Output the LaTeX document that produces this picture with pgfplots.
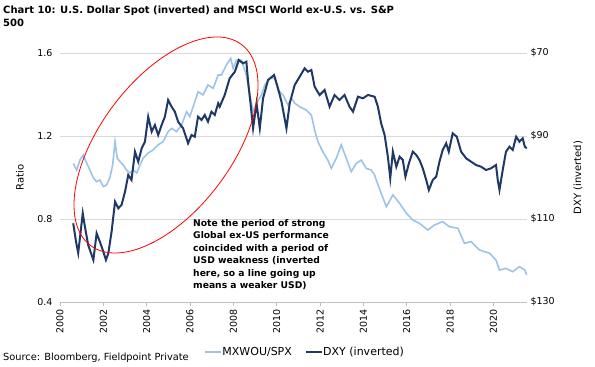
\documentclass[border=0pt]{standalone}
\usepackage{fontspec}
\setmainfont{DejaVu Sans}
\usepackage{pgfplots}
\pgfplotsset{compat=1.18}
\definecolor{lb}{HTML}{9DC3E6}
\definecolor{nv}{HTML}{1F3864}
\definecolor{gridc}{HTML}{D9D9D9}
\definecolor{axc}{HTML}{BFBFBF}

\begin{document}
\begin{tikzpicture}
\useasboundingbox (0,0) rectangle (595pt,367pt);
\begin{axis}[
  at={(60pt,65pt)}, anchor=south west,
  scale only axis, width=467pt, height=249pt,
  xmin=2000, xmax=2021.55, ymin=0.4, ymax=1.6,
  axis x line*=bottom, axis y line*=left,
  y axis line style={draw=none},
  x axis line style={axc, line width=0.8pt},
  ytick={0.4,0.8,1.2,1.6},
  yticklabel style={/pgf/number format/fixed, /pgf/number format/precision=1, /pgf/number format/fixed zerofill},
  ytick style={draw=none},
  xtick={2000,2002,...,2020},
  xticklabel style={rotate=90, anchor=east, /pgf/number format/1000 sep={}},
  xtick style={axc, line width=0.8pt},
  tick align=outside, major tick length=4pt,
  ymajorgrids, grid style={gridc, line width=0.8pt},
  /pgf/number format/assume math mode=true,
  tick label style={font=\fontsize{9.5}{11}\selectfont},
  ylabel={Ratio},
  every axis y label/.style={at={(axis description cs:-0.0857,0.5)}, rotate=90, anchor=center, font=\fontsize{10}{12}\selectfont},
]
\addplot[lb, line width=1.6pt] coordinates {
(2000.61,1.068) (2000.77,1.036) (2000.92,1.084) (2001.07,1.108) (2001.23,1.070) (2001.38,1.036) (2001.54,0.998)
(2001.69,0.980) (2001.84,0.988) (2002.00,0.956) (2002.15,0.964) (2002.30,0.998) (2002.43,1.060) (2002.54,1.173)
(2002.64,1.094) (2002.77,1.076) (2002.92,1.060) (2003.07,1.036) (2003.23,1.022) (2003.38,1.036) (2003.54,1.022)
(2003.69,1.060) (2003.84,1.094) (2004.07,1.118) (2004.30,1.133) (2004.53,1.157) (2004.76,1.173) (2004.99,1.221)
(2005.15,1.237) (2005.38,1.221) (2005.61,1.253) (2005.84,1.317) (2005.99,1.293) (2006.22,1.365) (2006.37,1.413)
(2006.60,1.398) (2006.83,1.446) (2007.07,1.430) (2007.30,1.494) (2007.45,1.494) (2007.68,1.542) (2007.88,1.574)
(2007.99,1.526) (2008.14,1.566) (2008.37,1.566) (2008.60,1.494) (2008.76,1.398) (2008.91,1.317) (2009.07,1.358)
(2009.30,1.398) (2009.45,1.446) (2009.68,1.478) (2009.91,1.478) (2010.06,1.422) (2010.29,1.398) (2010.52,1.349)
(2010.68,1.382) (2010.83,1.358) (2011.06,1.341) (2011.37,1.325) (2011.60,1.301) (2011.75,1.229) (2011.90,1.173)
(2012.13,1.124) (2012.36,1.084) (2012.52,1.044) (2012.75,1.093) (2012.98,1.157) (2013.21,1.093) (2013.44,1.028)
(2013.67,1.068) (2013.90,1.084) (2014.13,1.044) (2014.36,1.036) (2014.52,1.012) (2014.59,0.988) (2014.82,0.924)
(2015.06,0.859) (2015.36,0.916) (2015.67,0.876) (2015.98,0.828) (2016.28,0.795) (2016.59,0.779) (2016.97,0.747)
(2017.28,0.771) (2017.66,0.787) (2017.97,0.763) (2018.36,0.755) (2018.66,0.683) (2018.97,0.691) (2019.35,0.651)
(2019.82,0.635) (2020.12,0.602) (2020.28,0.554) (2020.58,0.562) (2020.89,0.546) (2021.20,0.570) (2021.45,0.554)
(2021.54,0.530)
};
\end{axis}
\begin{axis}[
  at={(60pt,65pt)}, anchor=south west,
  scale only axis, width=467pt, height=249pt,
  xmin=2000, xmax=2021.55, ymin=70, ymax=130, y dir=reverse,
  axis y line*=right, hide x axis,
  y axis line style={draw=none}, ytick style={draw=none},
  ytick={70,90,110,130},
  yticklabel={\$\pgfmathprintnumber{\tick}},
  /pgf/number format/assume math mode=true,
  tick label style={font=\fontsize{9.5}{11}\selectfont},
  ylabel={DXY (inverted)},
  every axis y label/.style={at={(axis description cs:1.109,0.5)}, rotate=90, anchor=center, font=\fontsize{10}{12}\selectfont},
  legend style={at={(axis description cs:0.5236,-0.2008)}, anchor=center, draw=none, fill=none,
    legend columns=2, font=\fontsize{11}{13}\selectfont,
    nodes={inner xsep=1pt},
    /tikz/every even column/.append style={column sep=12pt}},
  legend image code/.code={\draw[#1, line width=1.3pt] (0pt,0pt) -- (16pt,0pt);},
]
\addlegendimage{lb}
\addlegendentry{MXWOU/SPX}
\addplot[nv, line width=2pt] coordinates {
(2000.61,111.04) (2000.74,115.47) (2000.84,118.19) (2001.05,108.63) (2001.15,111.86) (2001.30,116.26) (2001.46,118.67)
(2001.54,119.88) (2001.69,113.45) (2001.84,115.47) (2002.00,117.88) (2002.12,119.88) (2002.23,118.27) (2002.38,113.06)
(2002.54,105.83) (2002.69,107.42) (2002.84,106.63) (2003.00,103.42) (2003.15,99.40) (2003.30,100.60) (2003.46,93.78)
(2003.61,96.19) (2003.77,92.96) (2003.92,91.37) (2004.07,85.35) (2004.23,88.96) (2004.38,87.35) (2004.53,89.76)
(2004.69,87.35) (2004.84,85.35) (2004.99,81.33) (2005.15,82.94) (2005.30,84.14) (2005.45,86.55) (2005.68,88.14)
(2005.91,91.76) (2006.07,89.76) (2006.22,90.17) (2006.37,85.35) (2006.53,86.14) (2006.68,84.94) (2006.83,86.55)
(2006.99,84.14) (2007.14,84.94) (2007.30,82.12) (2007.37,82.94) (2007.60,80.12) (2007.83,76.10) (2008.07,74.51)
(2008.25,71.69) (2008.45,72.48) (2008.60,72.10) (2008.68,76.92) (2008.80,82.53) (2008.91,88.14) (2009.07,82.12)
(2009.22,88.14) (2009.37,80.92) (2009.60,76.51) (2009.88,75.30) (2010.06,78.51) (2010.22,81.73) (2010.45,88.14)
(2010.60,82.12) (2010.83,77.71) (2011.06,75.71) (2011.29,73.69) (2011.44,74.51) (2011.60,74.10) (2011.75,78.12)
(2011.98,80.12) (2012.21,78.92) (2012.44,82.94) (2012.67,80.12) (2012.90,81.33) (2013.13,80.12) (2013.36,82.94)
(2013.52,84.14) (2013.75,80.53) (2013.98,80.92) (2014.21,80.12) (2014.52,80.53) (2014.67,82.94) (2014.82,86.94)
(2014.98,89.76) (2015.13,94.99) (2015.24,100.19) (2015.36,93.78) (2015.52,97.40) (2015.67,94.99) (2015.82,95.78)
(2015.94,99.81) (2016.10,96.58) (2016.28,93.78) (2016.44,94.58) (2016.59,95.78) (2016.74,97.78) (2016.90,100.60)
(2017.02,103.01) (2017.20,100.60) (2017.36,99.81) (2017.51,96.19) (2017.66,93.37) (2017.82,91.76) (2017.94,93.78)
(2018.12,89.35) (2018.31,90.17) (2018.51,93.78) (2018.74,95.37) (2018.97,96.19) (2019.20,96.99) (2019.43,97.40)
(2019.66,98.19) (2019.89,97.78) (2020.12,96.99) (2020.20,100.60) (2020.28,103.01) (2020.43,98.19) (2020.58,93.78)
(2020.74,92.58) (2020.89,93.37) (2021.05,90.17) (2021.20,91.37) (2021.35,90.55) (2021.45,92.58) (2021.54,92.96)
};
\addlegendentry{DXY (inverted)}
\end{axis}
\draw[red, line width=0.8pt, rotate around={53.1:(166pt,222pt)}] (166pt,222pt) ellipse [x radius=125.7pt, y radius=65.8pt];
\node[anchor=north west, inner sep=0pt, align=left, font=\bfseries\fontsize{9.2}{12.5}\selectfont] at (193pt,148pt)
  {Note the period of strong\\Global ex-US performance\\coincided with a period of\\USD weakness (inverted\\here, so a line going up\\means a weaker USD)};
\node[anchor=north west, inner sep=0pt, align=left, font=\bfseries\fontsize{10}{13}\selectfont] at (3pt,361pt)
  {Chart 10: U.S. Dollar Spot (inverted) and MSCI World ex-U.S. vs. S\&P\\500};
\node[anchor=west, inner sep=0pt, font=\fontsize{9.8}{11}\selectfont] at (3pt,9pt) {Source: Bloomberg, Fieldpoint Private};
\end{tikzpicture}
\end{document}
